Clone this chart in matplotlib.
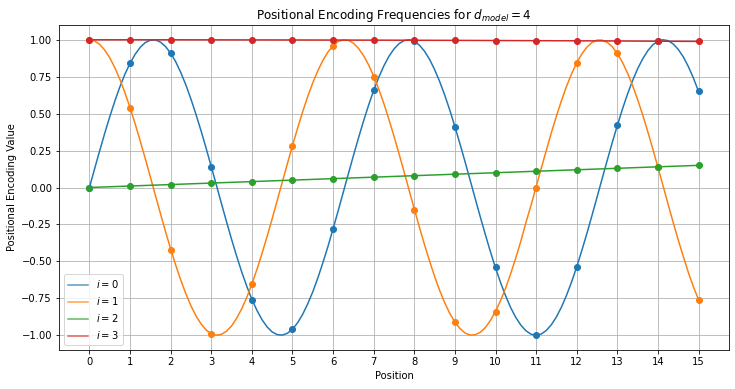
import numpy as np
import matplotlib
matplotlib.use("Agg")
import matplotlib.pyplot as plt
from matplotlib.lines import Line2D

positions = list(range(16))
curve_x = [k / 8 for k in range(121)]

# dots at integer positions
pe_i0 = [0.0, 0.84, 0.91, 0.14, -0.76, -0.96, -0.28, 0.66, 0.99, 0.41, -0.54, -1.00, -0.54, 0.42, 0.99, 0.65]
pe_i1 = [1.0, 0.54, -0.42, -0.99, -0.65, 0.28, 0.96, 0.75, -0.15, -0.91, -0.84, 0.00, 0.84, 0.91, 0.14, -0.76]
pe_i2 = [0.0, 0.01, 0.02, 0.03, 0.04, 0.05, 0.06, 0.07, 0.08, 0.09, 0.10, 0.11, 0.12, 0.13, 0.14, 0.15]
pe_i3 = [1.0, 1.0, 1.0, 0.9996, 0.9992, 0.9988, 0.9982, 0.9976, 0.9968, 0.996, 0.995, 0.994, 0.9928, 0.9916, 0.9902, 0.9888]

# smooth curves (sampled every 1/8 position)
curve_i0 = [0.000, 0.125, 0.247, 0.366, 0.479, 0.585, 0.682, 0.768,
            0.841, 0.902, 0.949, 0.981, 0.997, 0.999, 0.984, 0.954,
            0.909, 0.851, 0.778, 0.694, 0.598, 0.493, 0.382, 0.264,
            0.141, 0.017, -0.108, -0.231, -0.351, -0.465, -0.572, -0.669,
            -0.757, -0.832, -0.895, -0.944, -0.978, -0.996, -0.999, -0.987,
            -0.959, -0.916, -0.859, -0.788, -0.706, -0.612, -0.508, -0.398,
            -0.279, -0.158, -0.033, 0.092, 0.215, 0.335, 0.450, 0.558,
            0.657, 0.746, 0.823, 0.888, 0.938, 0.974, 0.995, 1.000,
            0.989, 0.964, 0.923, 0.868, 0.798, 0.717, 0.625, 0.523,
            0.412, 0.295, 0.174, 0.050, -0.075, -0.199, -0.319, -0.435,
            -0.544, -0.644, -0.734, -0.814, -0.880, -0.932, -0.970, -0.993,
            -1.000, -0.992, -0.968, -0.929, -0.876, -0.809, -0.729, -0.638,
            -0.537, -0.427, -0.311, -0.190, -0.066, 0.059, 0.183, 0.304,
            0.420, 0.530, 0.632, 0.723, 0.804, 0.871, 0.926, 0.966,
            0.991, 1.000, 0.994, 0.972, 0.935, 0.884, 0.818, 0.740,
            0.650]
curve_i1 = [1.000, 0.992, 0.969, 0.931, 0.878, 0.811, 0.732, 0.641,
            0.540, 0.431, 0.315, 0.195, 0.071, -0.054, -0.178, -0.300,
            -0.416, -0.526, -0.628, -0.720, -0.801, -0.870, -0.924, -0.965,
            -0.990, -1.000, -0.994, -0.973, -0.937, -0.885, -0.821, -0.743,
            -0.654, -0.554, -0.446, -0.331, -0.211, -0.087, 0.038, 0.162,
            0.284, 0.401, 0.512, 0.616, 0.709, 0.791, 0.861, 0.918,
            0.960, 0.988, 0.999, 0.996, 0.977, 0.942, 0.893, 0.830,
            0.754, 0.666, 0.568, 0.461, 0.347, 0.227, 0.104, -0.021,
            -0.146, -0.268, -0.386, -0.497, -0.602, -0.697, -0.781, -0.853,
            -0.911, -0.955, -0.985, -0.999, -0.997, -0.980, -0.948, -0.900,
            -0.839, -0.765, -0.680, -0.582, -0.476, -0.362, -0.236, -0.120,
            0.004, 0.129, 0.250, 0.371, 0.483, 0.589, 0.686, 0.770,
            0.844, 0.904, 0.950, 0.982, 0.998, 0.998, 0.983, 0.953,
            0.907, 0.848, 0.775, 0.691, 0.595, 0.491, 0.378, 0.259,
            0.137, 0.012, -0.113, -0.236, -0.355, -0.468, -0.576, -0.673,
            -0.760]

labels = ["$i = 0$", "$i = 1$", "$i = 2$", "$i = 3$"]
colors = ["#1f77b4", "#ff7f0e", "#2ca02c", "#d62728"]

fig = plt.figure(figsize=(735 / 72, 389 / 72), dpi=72)
ax = fig.add_axes([59 / 735, 1 - 350 / 389, 670 / 735, 325 / 389])

curves = [(curve_x, curve_i0), (curve_x, curve_i1), (positions, pe_i2), (positions, pe_i3)]
dots = [pe_i0, pe_i1, pe_i2, pe_i3]
handles = []
for (cx, cy), d, lab, c in zip(curves, dots, labels, colors):
    ax.plot(cx, cy, color=c)
    ax.scatter(positions, d, color=c, s=36, zorder=3)
    handles.append(Line2D([], [], color=c, alpha=0.75, label=lab))

ax.set_xticks(positions)
ax.set_xlim(-0.75, 15.75)
ax.set_ylim(-1.1, 1.1)
ax.set_yticks([-1.0, -0.75, -0.5, -0.25, 0.0, 0.25, 0.5, 0.75, 1.0])
ax.grid(True)
ax.set_title("Positional Encoding Frequencies for $d_{model} = 4$")
ax.set_xlabel("Position")
ax.set_ylabel("Positional Encoding Value")
ax.legend(handles=handles, loc="lower left")

fig.savefig("out.png", dpi=72)
